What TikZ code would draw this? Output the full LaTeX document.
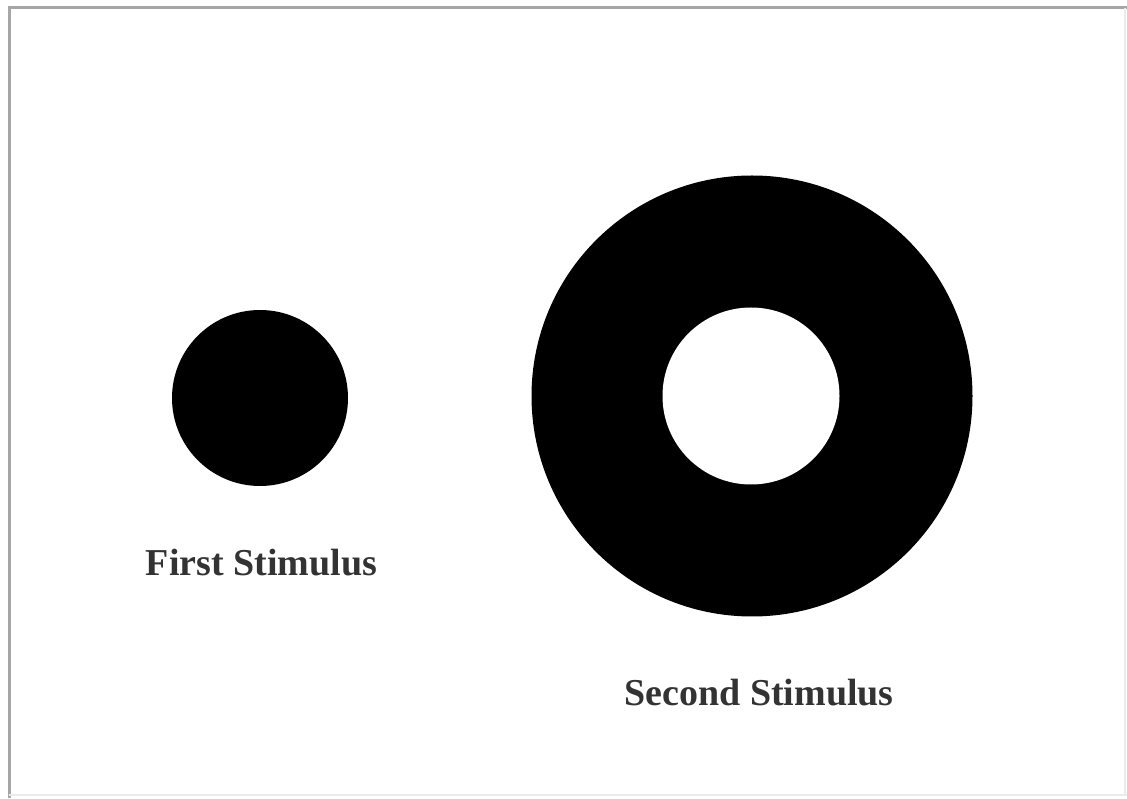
\documentclass[tikz,border=0pt]{standalone}
\usepackage{fontspec}
\setmainfont{Liberation Serif}
\begin{document}
\begin{tikzpicture}[x=1pt,y=1pt,
  disc/.style={circle,fill=black,inner sep=0pt,draw=none},
  hole/.style={circle,fill=white,inner sep=0pt,draw=none},
  lbl/.style={font=\fontsize{38}{41}\selectfont\bfseries,text=black!80,inner sep=0pt}]
\useasboundingbox (0,0) rectangle (1127,798);
\fill[white] (0,0) rectangle (1127,798);
% frame
\draw[black!35,line width=3pt] (9,0) -- (9,790) -- (1127,790);
\draw[black!8,line width=1.5pt] (9,3) -- (1127,3);
\draw[black!8,line width=1.5pt] (1125,3) -- (1125,790);
% first stimulus
\node[disc,minimum size=176pt] (first) at (260,400) {};
% second stimulus
\node[disc,minimum size=441pt] (second) at (752,402) {};
\node[hole,minimum size=177pt] (secondhole) at (751,402) {};
% labels
\node[lbl] (firstlbl) at (261.5,235) {First Stimulus};
\node[lbl] (secondlbl) at (759,105) {Second Stimulus};
\end{tikzpicture}
\end{document}
